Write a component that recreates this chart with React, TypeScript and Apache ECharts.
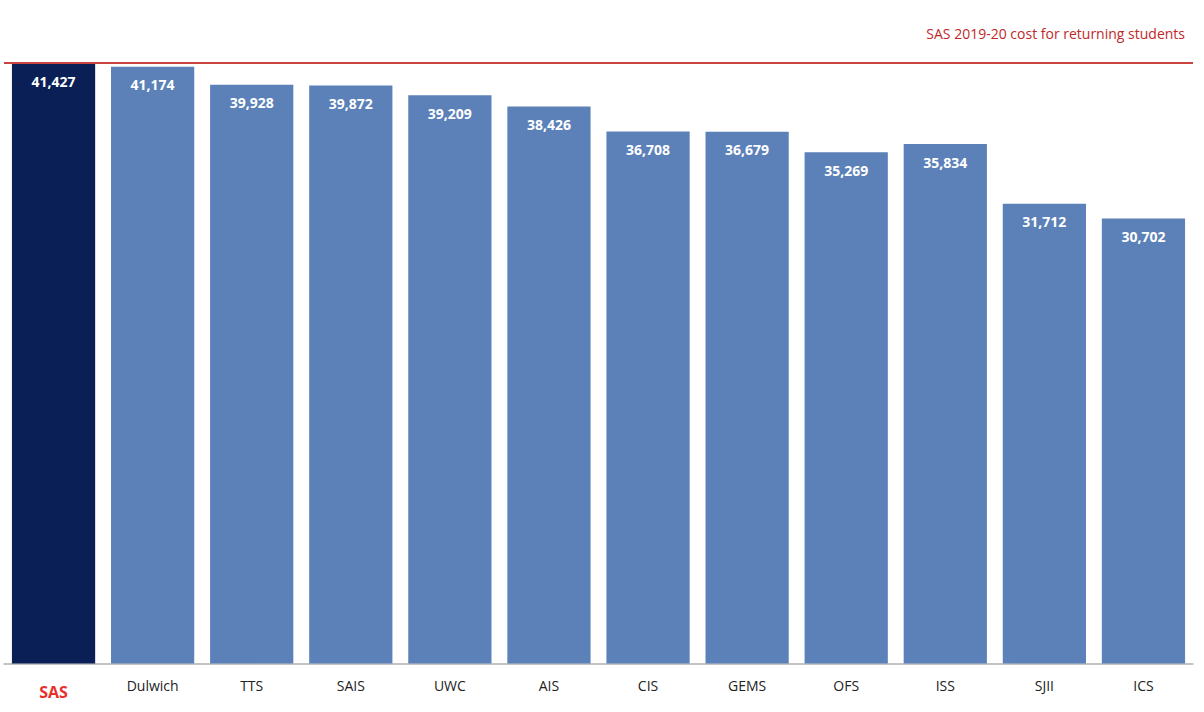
import React, { useEffect, useRef } from "react";
import * as echarts from "echarts";

const categories = ["SAS", "Dulwich", "TTS", "SAIS", "UWC", "AIS", "CIS", "GEMS", "OFS", "ISS", "SJII", "ICS"];
const costs = [41427, 41174, 39928, 39872, 39209, 38426, 36708, 36679, 35269, 35834, 31712, 30702];
const sasCost = 41427;
const annotation = "SAS 2019-20 cost for returning students";

const FONT = "'Open Sans', 'Noto Sans', sans-serif";

export default function App() {
  const ref = useRef<HTMLDivElement>(null);
  useEffect(() => {
    document.body.style.margin = "0";
    const chart = echarts.init(ref.current!, null, { renderer: "svg" });
    chart.setOption({
      animation: false,
      backgroundColor: "#ffffff",
      grid: { left: 4, right: 11, top: 63, bottom: 48.5, containLabel: false },
      xAxis: {
        type: "category",
        data: categories,
        axisTick: { show: false },
        axisLine: { lineStyle: { color: "#b0b0b0", width: 1.5 } },
        axisLabel: {
          margin: 15,
          fontFamily: FONT,
          fontSize: 14,
          color: "#222",
          formatter: (v: string) => (v === "SAS" ? "{sas|" + v + "}" : v),
          rich: {
            sas: { color: "#e8302a", fontWeight: "bold", fontSize: 16, fontFamily: FONT, padding: [5, 0, 0, 0] },
          },
        },
      },
      yAxis: {
        type: "value",
        min: 0,
        max: sasCost,
        show: false,
        splitLine: { show: false },
      },
      series: [
        {
          type: "bar",
          barCategoryGap: "16%",
          data: costs.map((v, i) => ({
            value: v,
            itemStyle: { color: i === 0 ? "#0a1f56" : "#5b81b8" },
          })),
          label: {
            show: true,
            position: "insideTop",
            distance: 11,
            color: "#ffffff",
            fontWeight: "bold",
            fontSize: 14,
            fontFamily: FONT,
            formatter: (p: any) => p.value.toLocaleString("en-US"),
          },
          markLine: {
            silent: true,
            symbol: "none",
            lineStyle: { color: "#c9443f", width: 2, type: "solid" },
            data: [{ yAxis: sasCost }],
            label: {
              show: true,
              position: "insideEndTop",
              distance: [8, 23],
              formatter: annotation,
              color: "#c0282a",
              fontSize: 14,
              fontFamily: FONT,
            },
          },
        },
      ],
    });
    return () => chart.dispose();
  }, []);
  return <div ref={ref} style={{ width: 1204, height: 712 }} />;
}
